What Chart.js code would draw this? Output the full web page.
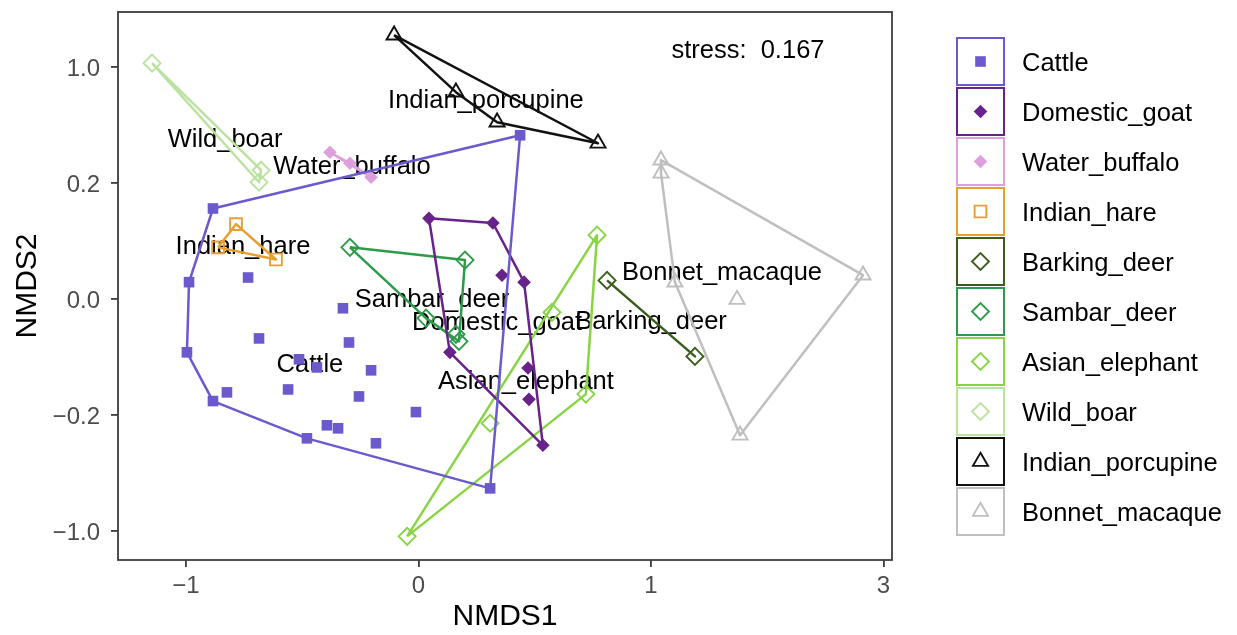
<!DOCTYPE html>
<html>
<head>
<meta charset="utf-8">
<title>NMDS</title>
<script src="https://cdn.jsdelivr.net/npm/chart.js@4.4.1/dist/chart.umd.min.js"></script>
<style>
  html, body { margin: 0; padding: 0; background: #fff; }
  #wrap { width: 1237px; height: 635px; }
</style>
</head>
<body>
<div id="wrap"><canvas id="nmds" width="1237" height="635"></canvas></div>
<script>
// species, in key order
const species = ["Cattle", "Domestic_goat", "Water_buffalo", "Indian_hare", "Barking_deer",
  "Sambar_deer", "Asian_elephant", "Wild_boar", "Indian_porcupine", "Bonnet_macaque"];

// NMDS1 / NMDS2 scores for each species
const cattle1 = [-0.884, -0.987, -0.996, -0.884, -0.480, 0.308, 0.437, -0.733, -0.686, -0.514, -0.561,
  -0.824, -0.325, -0.299, -0.437, -0.204, -0.256, -0.011, -0.394, -0.346, -0.183];
const cattle2 = [0.156, 0.029, -0.092, -0.176, -0.361, -0.706, 0.529, 0.037, -0.068, -0.104, -0.156,
  -0.161, -0.016, -0.075, -0.118, -0.123, -0.168, -0.195, -0.271, -0.292, -0.395];
const goat1 = [0.045, 0.320, 0.454, 0.535, 0.135, 0.359, 0.471, 0.475];
const goat2 = [0.139, 0.131, 0.029, -0.409, -0.092, 0.041, -0.119, -0.173];
const buffalo1 = [-0.381, -0.295, -0.204];
const buffalo2 = [0.412, 0.336, 0.239];
const hare1 = [-0.785, -0.862, -0.613];
const hare2 = [0.129, 0.089, 0.068];
const barking1 = [0.811, 1.378];
const barking2 = [0.032, -0.099];
const sambar1 = [-0.295, 0.200, 0.174, 0.161, 0.032];
const sambar2 = [0.089, 0.067, -0.073, -0.061, -0.033];
const elephant1 = [0.768, 0.720, -0.049, 0.308, 0.574];
const elephant2 = [0.110, -0.164, -1.037, -0.257, -0.023];
const boar1 = [-1.146, -0.677, -0.686];
const boar2 = [1.026, 0.288, 0.205];
const porcupine1 = [-0.105, 0.161, 0.338, 0.772];
const porcupine2 = [1.219, 0.826, 0.619, 0.474];
const macaque1 = [1.086, 1.086, 1.206, 1.766, 2.824, 1.740];
const macaque2 = [0.357, 0.267, 0.029, -0.340, 0.041, -0.001];

// where each species name is written
const labelX = [-0.467, 0.338, -0.286, -0.755, 1.0, 0.058, 0.462, -0.832, 0.290, 1.611];
const labelY = [-0.111, -0.038, 0.322, 0.093, -0.037, 0.001, -0.140, 0.508, 0.777, 0.048];

const stress = 0.167;
const stressAt = [1.834, 1.122];

// axis breaks (drawn at equal steps) and their labels
const xBreaks = [-1, 0, 1, 3];
const xTickLabels = ["\u22121", "0", "1", "3"];
const yBreaks = [-1, -0.2, 0, 0.2, 1];
const yTickLabels = ["\u22121.0", "\u22120.2", "0.0", "0.2", "1.0"];
const xLimits = [-1.2925, 3.073];
const yLimits = [-1.200, 1.379];

const colours = ["#6A5ACD", "#68228B", "#DDA0DD", "#E5A02F", "#3B5E1E",
  "#2E9B4A", "#88D445", "#BCE2A0", "#111111", "#BFBFBF"];
const shapes = ["rect", "rectRot", "rectRot", "rect", "rectRot",
  "rectRot", "rectRot", "rectRot", "triangle", "triangle"];
const solid = [true, true, true, false, false, false, false, false, false, false];
const radii = [7.5, 6.8, 6.8, 8.3, 8.5, 8.5, 8.5, 8.5, 8.7, 8.7];

const scores = [
  [cattle1, cattle2], [goat1, goat2], [buffalo1, buffalo2], [hare1, hare2], [barking1, barking2],
  [sambar1, sambar2], [elephant1, elephant2], [boar1, boar2], [porcupine1, porcupine2], [macaque1, macaque2]
];

const FONT = '"Liberation Sans", Arial, Helvetica, sans-serif';
const OPEN_W = 1.9;
const TEXT_DY = 2; // "middle" sits a little above the cap centre

// position along an axis whose breaks sit at equal steps (linear between breaks)
function warp(v, br) {
  let i = 0;
  if (v >= br[br.length - 1]) i = br.length - 2;
  else while (i < br.length - 2 && v > br[i + 1]) i++;
  return i + (v - br[i]) / (br[i + 1] - br[i]);
}
const tx = v => warp(v, xBreaks);
const ty = v => warp(v, yBreaks);

// convex hull (monotone chain)
function convexHull(pts) {
  const p = pts.slice().sort((a, b) => a.x - b.x || a.y - b.y);
  if (p.length < 3) return p;
  const cross = (o, a, b) => (a.x - o.x) * (b.y - o.y) - (a.y - o.y) * (b.x - o.x);
  const lower = [], upper = [];
  for (const q of p) {
    while (lower.length >= 2 && cross(lower[lower.length - 2], lower[lower.length - 1], q) <= 0) lower.pop();
    lower.push(q);
  }
  for (const q of p.slice().reverse()) {
    while (upper.length >= 2 && cross(upper[upper.length - 2], upper[upper.length - 1], q) <= 0) upper.pop();
    upper.push(q);
  }
  lower.pop(); upper.pop();
  return lower.concat(upper);
}

const datasets = [];
species.forEach((name, i) => {
  const pts = scores[i][0].map((x, k) => ({ x: tx(x), y: ty(scores[i][1][k]) }));
  const h = convexHull(pts);
  datasets.push({
    label: name,
    data: pts,
    showLine: false,
    pointStyle: shapes[i],
    pointRadius: radii[i],
    pointHoverRadius: radii[i],
    backgroundColor: solid[i] ? colours[i] : "rgba(0,0,0,0)",
    borderColor: colours[i],
    borderWidth: solid[i] ? 0 : OPEN_W
  });
  datasets.push({
    label: name + " hull",
    data: h.concat([h[0]]),
    showLine: true,
    pointRadius: 0,
    borderColor: colours[i],
    borderWidth: 2.5,
    borderJoinStyle: "round",
    fill: false
  });
});

function marker(ctx, i, x, y) {
  ctx.fillStyle = solid[i] ? colours[i] : "rgba(0,0,0,0)";
  ctx.strokeStyle = colours[i];
  ctx.lineWidth = solid[i] ? 0 : OPEN_W;
  Chart.helpers.drawPoint(ctx, { pointStyle: shapes[i], rotation: 0, radius: radii[i], borderWidth: solid[i] ? 0 : OPEN_W }, x, y);
}

// species names and the stress value, under the marks
const annotations = {
  id: "annotations",
  beforeDatasetsDraw(chart) {
    const { ctx, scales } = chart;
    ctx.save();
    ctx.fillStyle = "#000";
    ctx.font = "25.5px " + FONT;
    ctx.textAlign = "center";
    ctx.textBaseline = "middle";
    species.forEach((name, i) => {
      ctx.fillText(name, scales.x.getPixelForValue(tx(labelX[i])),
        scales.y.getPixelForValue(ty(labelY[i])) + TEXT_DY);
    });
    ctx.fillText("stress:  " + stress.toFixed(3),
      scales.x.getPixelForValue(tx(stressAt[0])), scales.y.getPixelForValue(ty(stressAt[1])) + TEXT_DY);
    ctx.restore();
  }
};

// panel border and the boxed key on the right
const frameAndKey = {
  id: "frameAndKey",
  afterDraw(chart) {
    const { ctx, chartArea: a } = chart;
    ctx.save();
    ctx.strokeStyle = "#3d3d3d";
    ctx.lineWidth = 1.8;
    ctx.strokeRect(a.left, a.top, a.right - a.left, a.bottom - a.top);

    const left = a.right + 65, size = 47, step = 50, top0 = 38;
    species.forEach((name, i) => {
      const top = top0 + i * step;
      ctx.strokeStyle = colours[i];
      ctx.lineWidth = 2;
      ctx.strokeRect(left, top, size, size);
      marker(ctx, i, left + size / 2, top + size / 2);
      ctx.fillStyle = "#000";
      ctx.font = "25.5px " + FONT;
      ctx.textAlign = "left";
      ctx.textBaseline = "middle";
      ctx.fillText(name, left + 65, top + size / 2 + TEXT_DY);
    });
    ctx.restore();
  }
};

new Chart(document.getElementById("nmds"), {
  type: "scatter",
  data: { datasets: datasets },
  options: {
    responsive: false,
    animation: false,
    events: [],
    layout: { padding: { left: 0, right: 345, top: 12, bottom: 0 } },
    plugins: { legend: { display: false }, tooltip: { enabled: false } },
    scales: {
      x: {
        type: "linear",
        min: tx(xLimits[0]),
        max: tx(xLimits[1]),
        afterBuildTicks: s => { s.ticks = xBreaks.map(b => ({ value: tx(b) })); },
        afterFit: s => { s.height = 75; s.paddingLeft = 0; s.paddingRight = 0; },
        ticks: {
          callback: (v, idx) => xTickLabels[idx],
          color: "#4d4d4d",
          font: { family: FONT, size: 24 },
          padding: 5,
          maxRotation: 0,
          autoSkip: false
        },
        grid: { drawOnChartArea: false, drawTicks: true, tickLength: 7, color: "#3d3d3d", lineWidth: 1.8 },
        border: { display: false },
        title: { display: true, text: "NMDS1", color: "#000", font: { family: FONT, size: 30 }, padding: { top: 3, bottom: 0 } }
      },
      y: {
        type: "linear",
        min: ty(yLimits[0]),
        max: ty(yLimits[1]),
        afterBuildTicks: s => { s.ticks = yBreaks.map(b => ({ value: ty(b) })); },
        afterFit: s => { s.width = 118; s.paddingTop = 0; s.paddingBottom = 0; },
        ticks: {
          callback: (v, idx) => yTickLabels[idx],
          color: "#4d4d4d",
          font: { family: FONT, size: 24 },
          padding: 11,
          labelOffset: 2,
          autoSkip: false
        },
        grid: { drawOnChartArea: false, drawTicks: true, tickLength: 7, color: "#3d3d3d", lineWidth: 1.8 },
        border: { display: false },
        title: { display: true, text: "NMDS2", color: "#000", font: { family: FONT, size: 30 }, padding: { top: 10, bottom: 0 } }
      }
    }
  },
  plugins: [annotations, frameAndKey]
});
</script>
</body>
</html>
